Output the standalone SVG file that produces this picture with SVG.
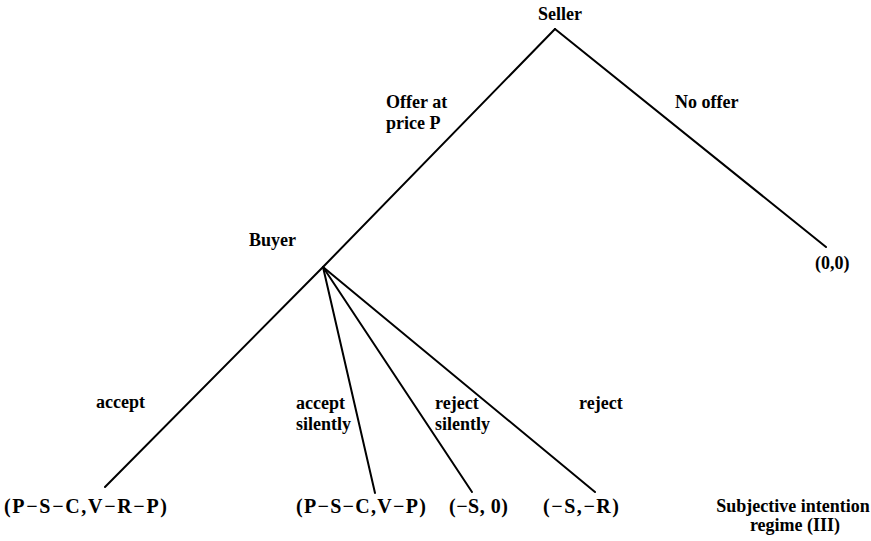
<svg xmlns="http://www.w3.org/2000/svg" width="871" height="541" viewBox="0 0 871 541">
<style>
.t{font-family:"Liberation Serif","Times New Roman",serif;font-size:18px;font-weight:bold;fill:#000}
.p{font-size:20px}
.e{stroke:#000;stroke-width:2;fill:none;stroke-linecap:round}
</style>
<rect width="871" height="541" fill="#fff"/>
<g id="edges">
<line class="e" x1="555" y1="29" x2="323" y2="267"/>
<line class="e" x1="555" y1="29" x2="826" y2="247"/>
<line class="e" x1="323" y1="267" x2="105" y2="487"/>
<line class="e" x1="323" y1="267" x2="375" y2="493"/>
<line class="e" x1="323" y1="267" x2="472" y2="492"/>
<line class="e" x1="323" y1="267" x2="595" y2="492"/>
</g>
<g id="seller"><text class="t" x="560" y="20" text-anchor="middle">Seller</text></g>
<g id="buyer"><text class="t" x="249" y="246">Buyer</text></g>
<g id="labels">
<text class="t" x="386" y="108">Offer at</text>
<text class="t" x="386" y="129">price P</text>
<text class="t" x="675" y="108">No offer</text>
<text class="t" x="96" y="408">accept</text>
<text class="t" x="296" y="409">accept</text>
<text class="t" x="296" y="430">silently</text>
<text class="t" x="435" y="409">reject</text>
<text class="t" x="435" y="430">silently</text>
<text class="t" x="579" y="409">reject</text>
</g>
<g id="leaf-nooffer"><text class="t" x="815" y="269">(0,0)</text></g>
<g id="leaf-accept"><text class="t p" x="4" y="513" textLength="163" lengthAdjust="spacing">(P−S−C,V−R−P)</text></g>
<g id="leaf-acceptsilently"><text class="t p" x="296" y="513" textLength="130" lengthAdjust="spacing">(P−S−C,V−P)</text></g>
<g id="leaf-rejectsilently"><text class="t p" x="449" y="513" textLength="59" lengthAdjust="spacing">(−S, 0)</text></g>
<g id="leaf-reject"><text class="t p" x="543" y="513" textLength="76" lengthAdjust="spacing">(−S,−R)</text></g>
<g id="caption">
<text class="t" x="793" y="512" text-anchor="middle">Subjective intention</text>
<text class="t" x="795" y="531" text-anchor="middle">regime (III)</text>
</g>
</svg>
